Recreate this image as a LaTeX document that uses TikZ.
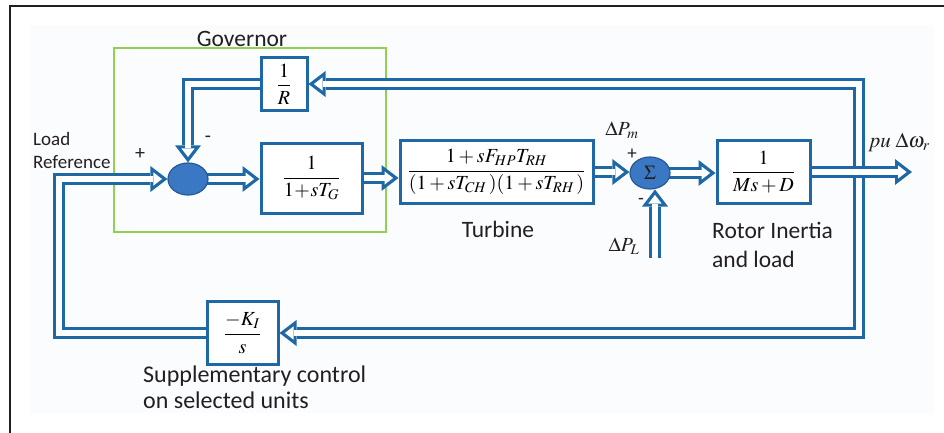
\documentclass[tikz,border=0pt]{standalone}
\usepackage{amsmath}
\usepackage{mathptmx}
\usepackage[no-math]{fontspec}
\setmainfont{Carlito}
\usetikzlibrary{arrows.meta,shapes.geometric}
\definecolor{lblue}{RGB}{30,105,165}
\definecolor{sfill}{RGB}{59,120,196}
\definecolor{sdraw}{RGB}{38,88,150}
\definecolor{gov}{RGB}{146,208,80}
\definecolor{txt}{RGB}{35,31,32}
\definecolor{bgc}{RGB}{251,252,254}
\pgfdeclarelayer{back}
\pgfdeclarelayer{lines}
\pgfsetlayers{back,lines,main}
\tikzset{
  blk/.style={draw=lblue, line width=3pt, fill=white, inner sep=0pt, text=black},
  sumnode/.style={ellipse, draw=sdraw, line width=1.2pt, fill=sfill, minimum width=40pt, minimum height=32pt, inner sep=0pt},
  lab/.style={text=txt, inner sep=0pt},
  flow/.style={draw=lblue, line width=12pt, line join=miter,
    -{Triangle[length=17pt,width=26pt,line width=0pt]},
    postaction={draw=white, line width=6pt, line join=miter,
      -{Triangle[length=8.6pt,width=13.2pt,line width=0pt]}, shorten >=5.4pt}},
  flowboth/.style={draw=lblue, line width=12pt, line join=miter,
    {Triangle[length=17pt,width=26pt,line width=0pt]}-{Triangle[length=17pt,width=26pt,line width=0pt]},
    postaction={draw=white, line width=6pt, line join=miter,
      {Triangle[length=8.6pt,width=13.2pt,line width=0pt]}-{Triangle[length=8.6pt,width=13.2pt,line width=0pt]},
      shorten >=5.4pt, shorten <=5.4pt}},
}
\newcommand{\fs}[1]{\fontsize{#1}{#1}\selectfont}
\begin{document}
\begin{tikzpicture}[x=1pt,y=-1pt]
\useasboundingbox (0,0) rectangle (944,433);
\begin{pgfonlayer}{back}
  \fill[bgc] (30,25) rectangle (935,413);
  \draw[line width=2.5pt, black!88] (10,433) -- (10,6) -- (944,6);
  \draw[gov, line width=2pt] (114,48) rectangle (386,232);
\end{pgfonlayer}

% blocks
\node[blk, minimum width=46pt, minimum height=53pt] (rr) at (284,84) {\fs{20}$\dfrac{1}{R}$};
\node[blk, minimum width=101pt, minimum height=70pt] (gt) at (311.5,178) {\fs{20}$\dfrac{1}{1\!+\!sT_G}$};
\node[blk, minimum width=193pt, minimum height=63pt] (tb) at (496.5,172) {\fs{20}$\dfrac{1+sF_{HP}T_{RH}}{(1+sT_{CH}\,)(1+sT_{RH}\,)}$};
\node[blk, minimum width=93pt, minimum height=63pt] (ms) at (763.5,172) {\fs{20}$\dfrac{1}{Ms+D}$};
\node[blk, minimum width=71pt, minimum height=63pt] (ki) at (242.5,333) {\fs{20}$\dfrac{-K_I}{s}$};
\node[sumnode] (s1) at (188,179) {};
\node[sumnode] (s2) at (650,173) {\fs{20}\color{txt}$\Sigma$};

\coordinate (TR) at (859,84);
\coordinate (BR) at (859,333);
\coordinate (LL) at (58.5,333);
\coordinate (out) at (912,172);
\coordinate (dpl) at (655,258);
\coordinate (dpltip) at (655,189.5);

\begin{pgfonlayer}{lines}
  % feedback loop right
  \draw[flowboth] (rr.east) -- (TR) -- (BR) -- (ki.east);
  % left loop to summing junction
  \draw[flow] (ki.west) -- (LL) -- (LL |- s1.west) -- (s1.west);
  % 1/R to summing junction
  \draw[flow] (rr.west) -- (rr.west -| s1.north) -- (s1.north);
  % main path
  \draw[flow] (s1.center) -- (gt.west |- s1.center);
  \draw[flow] (gt.east) -- (tb.west |- gt.east);
  \draw[flow] (tb.east) -- (s2.west |- tb.east);
  \draw[flow] (s2.center) -- (ms.west |- s2.center);
  \draw[flow] (ms.east) -- (out);
  \draw[flow] (dpl) -- (dpltip);
\end{pgfonlayer}

% labels
\node[lab, anchor=base] at (242,47) {\fs{23.5}Governor};
\node[lab, anchor=base west] at (33,145) {\fs{19}Load};
\node[lab, anchor=base west] at (33,168) {\fs{19}Reference};
\node[lab] at (140,154) {\fs{20}+};
\node[lab] at (208,139) {\fs{20}-};
\node[lab, anchor=base] at (498,237) {\fs{23.5}Turbine};
\node[lab] at (622,130) {\fs{20}$\Delta P_m$};
\node[lab] at (632,154) {\fs{19}+};
\node[lab] at (641,201) {\fs{19}-};
\node[lab] at (624,246) {\fs{20}$\Delta P_L$};
\node[lab] at (899,142) {\fs{21}$pu\ \Delta\omega_r$};
\node[lab, anchor=base west] at (712,238) {\fs{23.5}Rotor Inertia};
\node[lab, anchor=base west] at (712,267) {\fs{23.5}and load};
\node[lab, anchor=base west] at (143,382) {\fs{24}Supplementary control};
\node[lab, anchor=base west] at (143,408) {\fs{24}on selected units};
\end{tikzpicture}
\end{document}
